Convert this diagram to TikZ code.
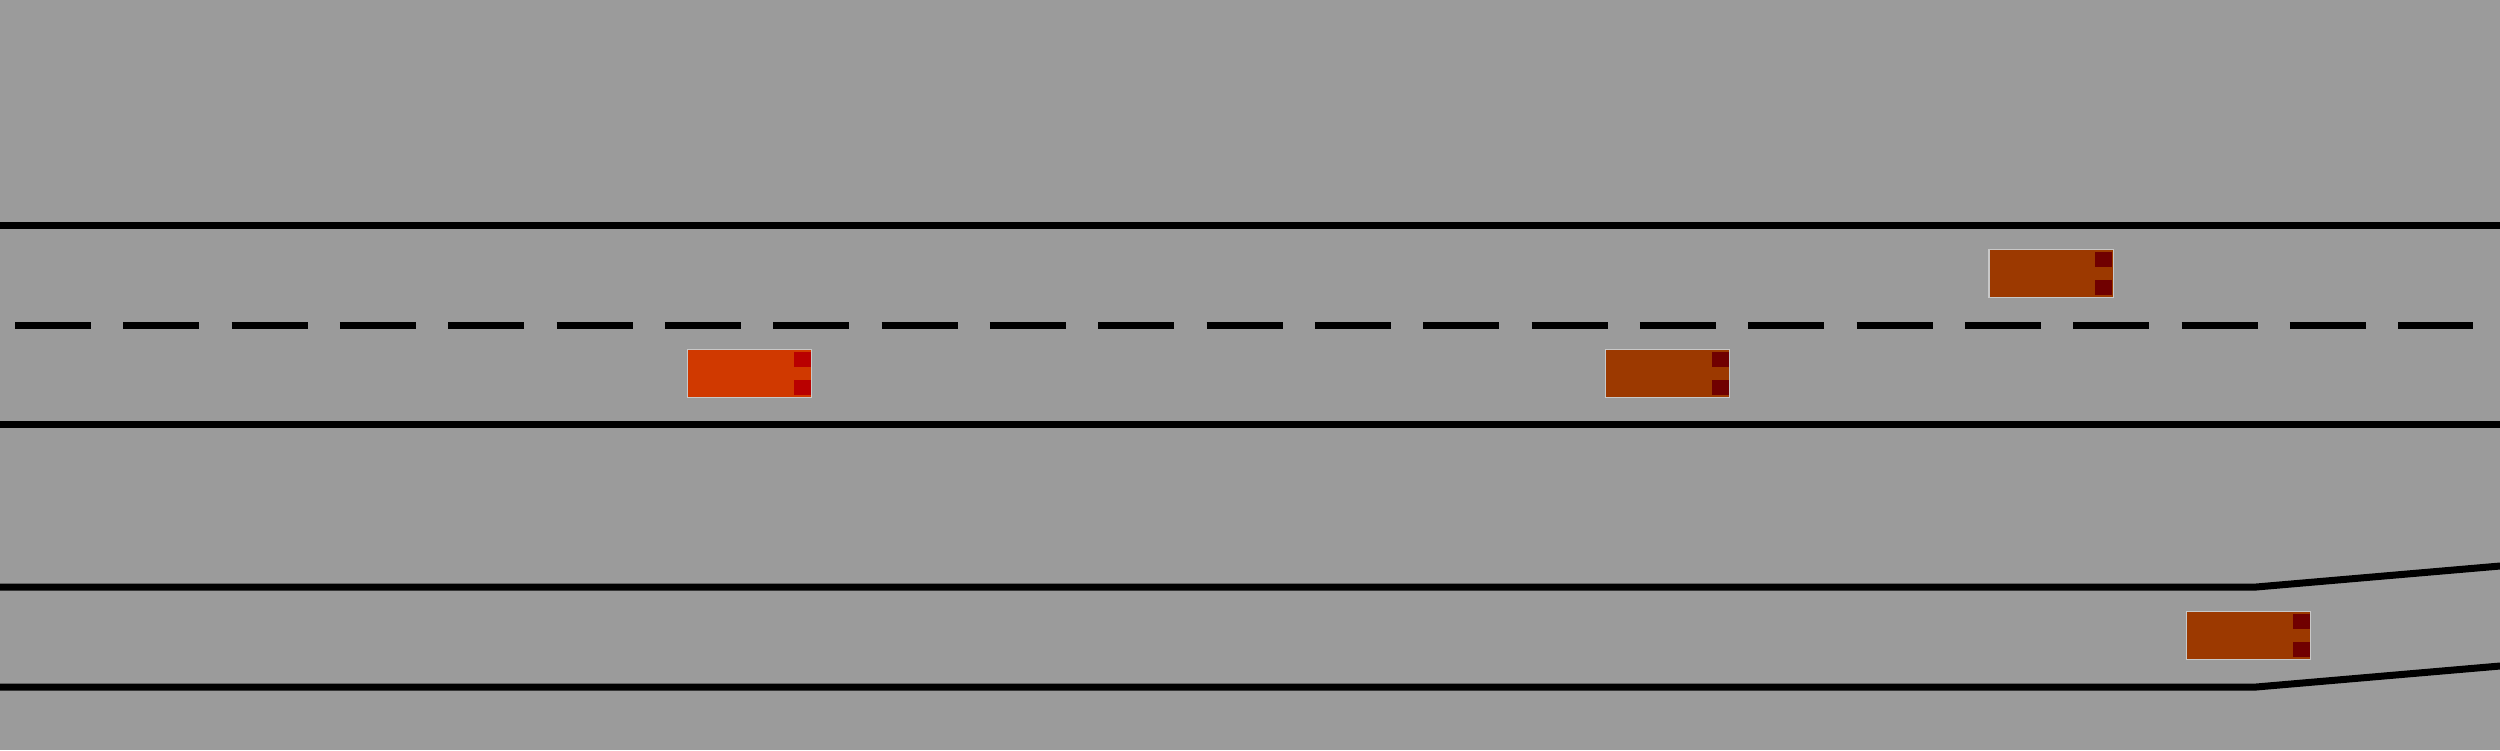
\documentclass[tikz,border=0pt]{standalone}
\usepackage{tikz}

\definecolor{roadgray}{RGB}{155,155,155}
\definecolor{egobody}{RGB}{208,57,0}
\definecolor{egolamp}{RGB}{185,0,0}
\definecolor{carbody}{RGB}{156,57,0}
\definecolor{carlamp}{RGB}{112,0,0}
\definecolor{rim}{RGB}{200,200,200}

\begin{document}
\begin{tikzpicture}[x=0.01cm,y=-0.01cm]
\tikzset{marking/.style={line width=0.07cm,black},
  lanedash/.style={marking,dash pattern=on 0.76cm off 0.3227cm},
  car/.style={rectangle,draw=rim,line width=0.3pt,inner sep=0pt,outer sep=0pt,
    minimum width=1.24cm,minimum height=0.48cm}}
\useasboundingbox (0,0) rectangle (2500,750);
\fill[roadgray] (0,0) rectangle (2500,750);
% main road
\draw[marking] (0,225) -- (2500,225);
\draw[lanedash] (15,325) -- (2473,325);
\draw[marking] (0,424) -- (2500,424);
% side lane and ramp
\draw[marking] (0,587) -- (2256,587) -- (2500,566);
\draw[marking] (0,687) -- (2256,687) -- (2500,666);
% cars
\node[car,fill=egobody] (ego) at (749.5,373.5) {};
\fill[egolamp] ([shift={(-18,2)}]ego.north east) rectangle ++(17,15);
\fill[egolamp] ([shift={(-18,-3)}]ego.south east) rectangle ++(17,-15);
\foreach \nm/\cx/\cy in {mid/1667.5/373.5,top/2051/273.5,ramp/2248.5/635.5}{
  \node[car,fill=carbody] (\nm) at (\cx,\cy) {};
  \fill[carlamp] ([shift={(-18,2)}]\nm.north east) rectangle ++(17,15);
  \fill[carlamp] ([shift={(-18,-3)}]\nm.south east) rectangle ++(17,-15);
}
\end{tikzpicture}
\end{document}
